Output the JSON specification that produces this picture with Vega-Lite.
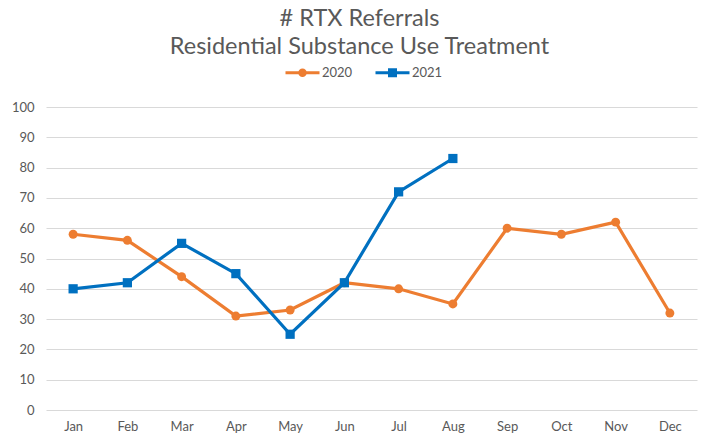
{
  "$schema": "https://vega.github.io/schema/vega-lite/v6.json",
  "width": 651,
  "height": 303,
  "autosize": {"type": "none"},
  "padding": {"left": 46, "top": 107, "right": 8, "bottom": 28},
  "background": "white",
  "config": {"view": {"stroke": null}, "font": "Lato"},
  "title": {
    "text": ["# RTX Referrals", "Residential Substance Use Treatment"],
    "font": "Lato",
    "fontSize": 23.5,
    "fontWeight": "normal",
    "color": "#595959",
    "lineHeight": 28,
    "anchor": "middle",
    "dx": -12,
    "offset": 8
  },
  "data": {
    "values": [
      {"month": "Jan", "year": "2020", "value": 58},
      {"month": "Feb", "year": "2020", "value": 56},
      {"month": "Mar", "year": "2020", "value": 44},
      {"month": "Apr", "year": "2020", "value": 31},
      {"month": "May", "year": "2020", "value": 33},
      {"month": "Jun", "year": "2020", "value": 42},
      {"month": "Jul", "year": "2020", "value": 40},
      {"month": "Aug", "year": "2020", "value": 35},
      {"month": "Sep", "year": "2020", "value": 60},
      {"month": "Oct", "year": "2020", "value": 58},
      {"month": "Nov", "year": "2020", "value": 62},
      {"month": "Dec", "year": "2020", "value": 32},
      {"month": "Jan", "year": "2021", "value": 40},
      {"month": "Feb", "year": "2021", "value": 42},
      {"month": "Mar", "year": "2021", "value": 55},
      {"month": "Apr", "year": "2021", "value": 45},
      {"month": "May", "year": "2021", "value": 25},
      {"month": "Jun", "year": "2021", "value": 42},
      {"month": "Jul", "year": "2021", "value": 72},
      {"month": "Aug", "year": "2021", "value": 83}
    ]
  },
  "encoding": {
    "x": {
      "field": "month",
      "type": "ordinal",
      "sort": ["Jan", "Feb", "Mar", "Apr", "May", "Jun", "Jul", "Aug", "Sep", "Oct", "Nov", "Dec"],
      "scale": {"type": "point", "padding": 0.5},
      "axis": {
        "title": null,
        "labelAngle": 0,
        "labelFont": "Lato",
        "labelFontSize": 13,
        "labelColor": "#595959",
        "labelPadding": 10,
        "ticks": false,
        "domain": false,
        "grid": false
      }
    },
    "y": {
      "field": "value",
      "type": "quantitative",
      "scale": {"domain": [0, 100]},
      "axis": {
        "title": null,
        "values": [0, 10, 20, 30, 40, 50, 60, 70, 80, 90, 100],
        "labelFont": "Lato",
        "labelFontSize": 13,
        "labelColor": "#595959",
        "labelPadding": 12,
        "ticks": false,
        "domain": false,
        "grid": true,
        "gridColor": "#D9D9D9",
        "gridWidth": 1
      }
    }
  },
  "layer": [
    {
      "mark": {"type": "line", "strokeWidth": 3.2},
      "encoding": {
        "color": {
          "field": "year",
          "type": "nominal",
          "scale": {"domain": ["2020", "2021"], "range": ["#ED7D31", "#0070C0"]},
          "legend": {
            "title": null,
            "orient": "none",
            "legendX": 250,
            "legendY": -41,
            "direction": "horizontal",
            "symbolSize": 100,
            "symbolStrokeWidth": 0,
            "labelOffset": 13,
            "columnPadding": 22,
            "labelFont": "Lato",
            "labelFontSize": 13,
            "labelColor": "#595959"
          }
        }
      }
    },
    {
      "transform": [{"filter": {"field": "year", "equal": "2020"}}],
      "mark": {"type": "point", "shape": "circle", "filled": true, "opacity": 1, "size": 80, "color": "#ED7D31"}
    },
    {
      "transform": [{"filter": {"field": "year", "equal": "2021"}}],
      "mark": {"type": "point", "shape": "square", "filled": true, "opacity": 1, "size": 85, "color": "#0070C0"}
    },
    {
      "transform": [{"filter": {"field": "year", "equal": "none"}}],
      "mark": {"type": "point", "filled": true, "opacity": 1, "size": 100},
      "encoding": {
        "color": {
          "field": "year",
          "type": "nominal",
          "scale": {"domain": ["2020", "2021"], "range": ["#ED7D31", "#0070C0"]},
          "legend": {
            "title": null,
            "orient": "none",
            "legendX": 250,
            "legendY": -41,
            "direction": "horizontal",
            "symbolSize": 100,
            "symbolStrokeWidth": 0,
            "labelOffset": 13,
            "columnPadding": 22,
            "labelFont": "Lato",
            "labelFontSize": 13,
            "labelColor": "#595959"
          }
        },
        "shape": {
          "field": "year",
          "type": "nominal",
          "scale": {
            "domain": ["2020", "2021"],
            "range": [
              "M-3.4,-0.3H3.4V0.3H-3.4Z M-0.85,0A0.85,0.85,0,1,1,0.85,0A0.85,0.85,0,1,1,-0.85,0Z",
              "M-3.4,-0.3H3.4V0.3H-3.4Z M-0.9,-0.9H0.9V0.9H-0.9Z"
            ]
          },
          "legend": {
            "title": null,
            "orient": "none",
            "legendX": 250,
            "legendY": -41,
            "direction": "horizontal",
            "symbolSize": 100,
            "symbolStrokeWidth": 0,
            "labelOffset": 13,
            "columnPadding": 22,
            "labelFont": "Lato",
            "labelFontSize": 13,
            "labelColor": "#595959"
          }
        }
      }
    }
  ]
}
